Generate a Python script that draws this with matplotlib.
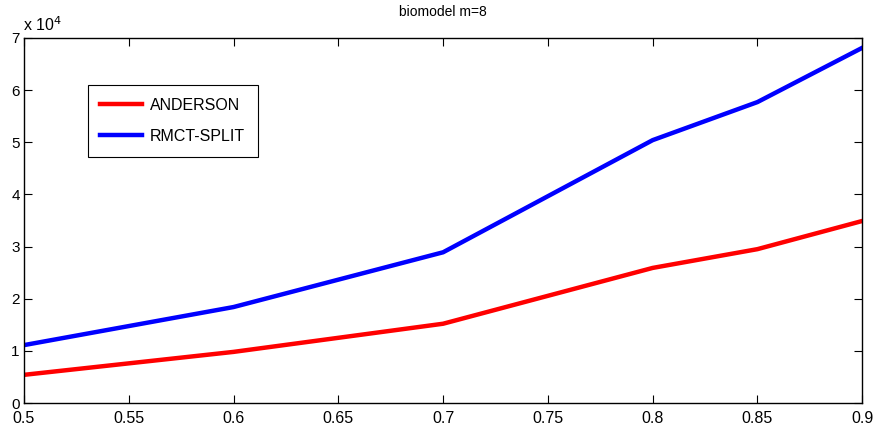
import matplotlib
matplotlib.use("Agg")
import matplotlib.pyplot as plt
from matplotlib.ticker import FuncFormatter, MultipleLocator

plt.rcParams['font.family'] = ['Liberation Sans Narrow', 'Liberation Sans', 'DejaVu Sans']

x = [0.5, 0.6, 0.7, 0.8, 0.85, 0.9]
anderson = [5400, 9800, 15200, 25900, 29500, 34900]
rmct_split = [11100, 18400, 28900, 50400, 57700, 68100]
title = "biomodel m=8"

fig = plt.figure(figsize=(8.75, 4.29), dpi=100)
ax = fig.add_axes([0.0274, 0.0606, 0.958, 0.851])
ax.plot(x, anderson, color='#ff0000', lw=3.2, label='ANDERSON')
ax.plot(x, rmct_split, color='#0000ff', lw=3.2, label='RMCT-SPLIT')
ax.set_xlim(0.5, 0.9)
ax.set_ylim(0, 70000)
ax.xaxis.set_major_locator(MultipleLocator(0.05))
ax.yaxis.set_major_locator(MultipleLocator(10000))
ax.xaxis.set_major_formatter(FuncFormatter(lambda v, p: f"{v:g}"))
ax.yaxis.set_major_formatter(FuncFormatter(lambda v, p: f"{v/1e4:g}"))
ax.tick_params(direction='in', top=True, right=True, length=6, width=0.8)
ax.tick_params(axis='x', pad=6, labelsize=11.5)
ax.tick_params(axis='y', pad=3, labelsize=11)
for s in ax.spines.values():
    s.set_linewidth(1.0)
ax.set_title(title, fontsize=10, pad=16)
ax.text(-0.001, 1.012, r"x 10$^{4}$", transform=ax.transAxes, fontsize=11.5, ha='left', va='bottom')
leg = ax.legend(loc='upper left', bbox_to_anchor=(0.076, 0.871), borderaxespad=0, fontsize=11.5,
                fancybox=False, edgecolor='black', framealpha=1, handlelength=2.6,
                handletextpad=0.5, borderpad=0.8, labelspacing=1.0)
leg.get_frame().set_linewidth(0.8)
fig.savefig("out.png", dpi=100)
